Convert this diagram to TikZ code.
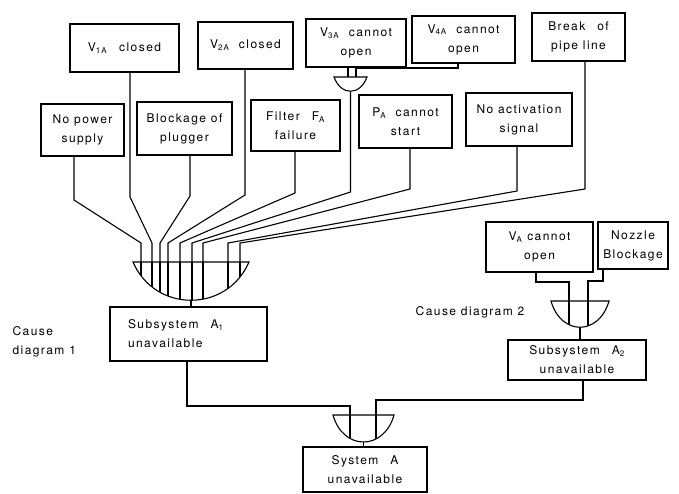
\documentclass[tikz,border=0pt]{standalone}
\usepackage{fontspec}
\setmainfont[LetterSpace=12]{TeX Gyre Heros}
\begin{document}
\begin{tikzpicture}[x=1pt,y=-1pt,line width=1.1pt,
    event/.style={draw,align=center,inner sep=1pt,font=\fontsize{12}{19}\selectfont},
    note/.style={align=left,inner sep=0pt,font=\fontsize{12}{19}\selectfont}]
    \useasboundingbox (0,0) rectangle (679,493);
    \node[event,minimum width=109,minimum height=48] (v1a) at (124.5,48) {V\textsubscript{1A}\quad closed};
    \node[event,minimum width=95,minimum height=47] (v2a) at (245.5,45.5) {V\textsubscript{2A}\ \ closed};
    \node[event,minimum width=100,minimum height=48] (v3a) at (356,43) {V\textsubscript{3A}\ \ cannot\\open};
    \node[event,minimum width=103,minimum height=47] (v4a) at (463.5,39.5) {V\textsubscript{4A}\ \ cannot\\open};
    \node[event,minimum width=93,minimum height=48] (pipe) at (578.5,37) {Break\quad of\\pipe line};
    \node[event,minimum width=83,minimum height=52] (power) at (82.5,130) {No power\\supply};
    \node[event,minimum width=95,minimum height=53] (plugger) at (184.5,128.5) {Blockage of\\plugger};
    \node[event,minimum width=89,minimum height=51] (filter) at (295.5,125.5) {Filter\quad F\textsubscript{A}\\failure};
    \node[event,minimum width=93,minimum height=53] (pump) at (405.5,121.5) {P\textsubscript{A}\ \ cannot\\start};
    \node[event,minimum width=106,minimum height=53] (signal) at (519,119.5) {No activation\\signal};
    \node[event,align=left,text width=121,inner xsep=18,minimum height=54] (suba1) at (188.5,334) {Subsystem\quad A\textsubscript{1}\\unavailable};
    \node[event,minimum width=107,minimum height=50] (va) at (539.5,247) {V\textsubscript{A}\ cannot\\open};
    \node[event,minimum width=70,minimum height=47] (nozzle) at (633,245.5) {Nozzle\\Blockage};
    \node[event,minimum width=138,minimum height=40] (suba2) at (577,360) {Subsystem\quad A\textsubscript{2}\\unavailable};
    \node[event,minimum width=124,minimum height=45] (sysa) at (365,469.5) {System\quad A\\unavailable};
    \node[note,anchor=north west] (cd1) at (12,326) {Cause\\diagram 1};
    \node[note] (cd2) at (470,312) {Cause diagram 2};
    \draw (334,77) .. controls (341,96) and (360,96) .. (367,77) -- cycle;
    \coordinate (g0out) at (350.5,91);
    \draw (133,262) .. controls (155,313) and (227,313) .. (249,262) -- cycle;
    \coordinate (gAout) at (191,300);
    \draw (551,301) .. controls (561,336) and (599,336) .. (609,301) -- cycle;
    \coordinate (gBout) at (580,327);
    \draw (333,415) .. controls (343,451) and (384,451) .. (394,415) -- cycle;
    \coordinate (gCout) at (363.5,442);
    \foreach \i/\x in {1/141,2/152,3/160,4/168,5/180,6/192,7/203,8/228,9/240}
      \coordinate (a\i) at (\x,262);
    \coordinate (b1) at (569,301);
    \coordinate (b2) at (588,301);
    \coordinate (c1) at (350,415);
    \coordinate (c2) at (376,415);
    \begin{scope}
      \clip (133,262) .. controls (155,313) and (227,313) .. (249,262) -- cycle;
      \foreach \i in {1,...,9} \draw (a\i) -- ++(0,60);
    \end{scope}
    \begin{scope}
      \clip (551,301) .. controls (561,336) and (599,336) .. (609,301) -- cycle;
      \draw (b1) -- ++(0,40);
      \draw (b2) -- ++(0,40);
    \end{scope}
    \begin{scope}
      \clip (333,415) .. controls (343,451) and (384,451) .. (394,415) -- cycle;
      \draw (c1) -- ++(0,40);
      \draw (c2) -- ++(0,40);
    \end{scope}
    \draw (348,0 |- v3a.south) -- (348,77);
    \draw (458,0 |- v4a.south) -- (458,68) -- (356,68) -- (356,77);
    \draw (74,0 |- power.south) -- (74,200) -- (a1 |- 0,243) -- (a1);
    \draw (130,0 |- v1a.south) -- (130,197) -- (a2 |- 0,243) -- (a2);
    \draw (190,0 |- plugger.south) -- (190,196) -- (a3 |- 0,243) -- (a3);
    \draw (245,0 |- v2a.south) -- (245,195) -- (a4 |- 0,243) -- (a4);
    \draw (295,0 |- filter.south) -- (295,193) -- (a5 |- 0,243) -- (a5);
    \draw (g0out) -- (350.5,192) -- (a6 |- 0,243) -- (a6);
    \draw (410,0 |- pump.south) -- (410,189) -- (a7 |- 0,243) -- (a7);
    \draw (517,0 |- signal.south) -- (517,191) -- (a8 |- 0,243) -- (a8);
    \draw (585,0 |- pipe.south) -- (585,189) -- (a9 |- 0,243) -- (a9);
    \draw (gAout) -- (gAout |- suba1.north);
    \draw (536,0 |- va.south) -- (536,282) -- (b1 |- 0,282) -- (b1);
    \draw (603,0 |- nozzle.south) -- (603,281) -- (b2 |- 0,281) -- (b2);
    \draw (gBout) -- (gBout |- suba2.north);
    \draw (187,0 |- suba1.south) -- (187,406) -- (c1 |- 0,406) -- (c1);
    \draw (583,0 |- suba2.south) -- (583,400) -- (c2 |- 0,400) -- (c2);
    \draw (gCout) -- (gCout |- sysa.north);
\end{tikzpicture}
\end{document}
